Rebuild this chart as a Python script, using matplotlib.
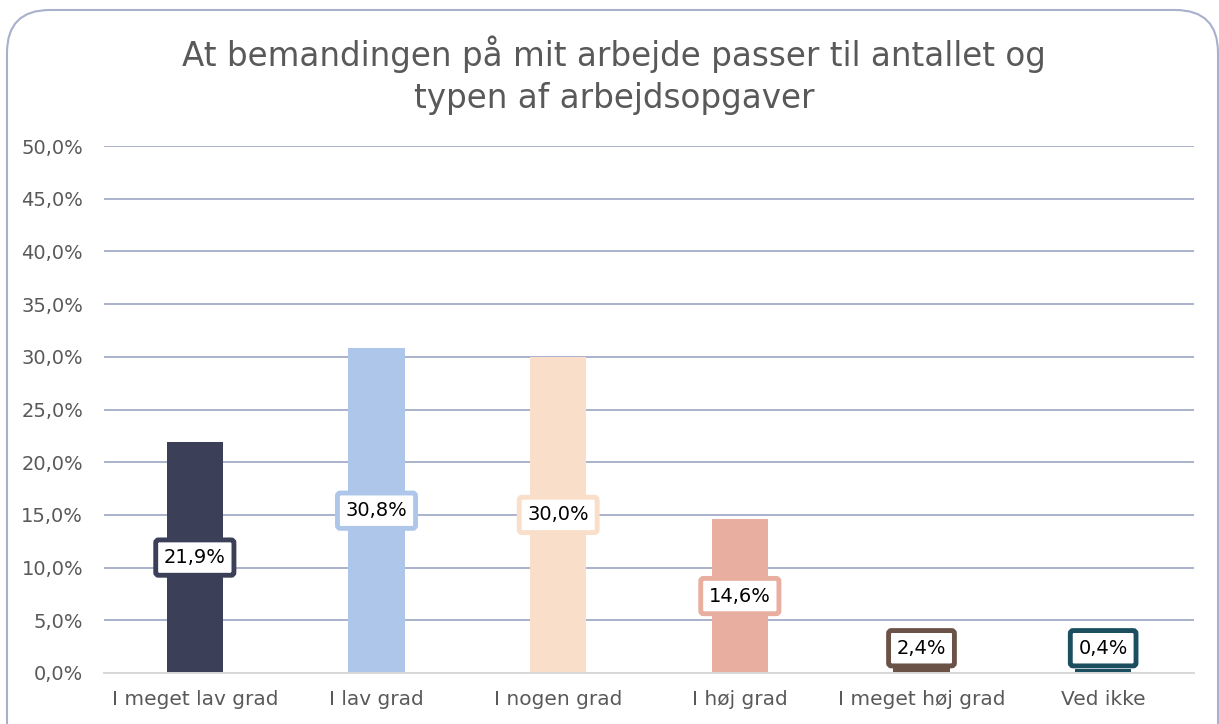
import matplotlib
matplotlib.use("Agg")
import matplotlib.pyplot as plt
from matplotlib.patches import FancyBboxPatch
from matplotlib.ticker import MultipleLocator, FuncFormatter

categories = ["I meget lav grad", "I lav grad", "I nogen grad", "I høj grad", "I meget høj grad", "Ved ikke"]
values = [21.9, 30.8, 30.0, 14.6, 2.4, 0.4]
colors = ["#3B3F58", "#AEC6EA", "#F9DEC9", "#E8AFA0", "#6B5247", "#1B4F60"]
title = "At bemandingen på mit arbejde passer til antallet og\ntypen af arbejdsopgaver"

plt.rcParams['font.family'] = ['DejaVu Sans']
W, H = 1219, 724
fig = plt.figure(figsize=(W/100, H/100), dpi=100)

# rounded border (bottom edge runs off the canvas)
border = FancyBboxPatch((7/W, 1 - 800/H), (1218-7)/W, (800-10)/H,
                        boxstyle="round,pad=0,rounding_size=0.035",
                        transform=fig.transFigure, fill=False,
                        edgecolor="#A8B0CC", linewidth=1.5, mutation_aspect=W/H)
fig.patches.append(border)

ax = fig.add_axes([104/W, 1 - 673/H, (1194-104)/W, (673-146)/H])
x = range(len(categories))
ax.bar(x, values, width=0.31, color=colors, zorder=3)
ax.set_ylim(0, 50)
ax.set_xlim(-0.5, len(categories) - 0.5)
ax.yaxis.set_major_locator(MultipleLocator(5))
ax.yaxis.set_major_formatter(FuncFormatter(lambda v, p: f"{v:.1f}%".replace(".", ",")))
ax.grid(axis="y", color="#A9B1CC", linewidth=1.4, zorder=0)
for s in ["top", "right", "left"]:
    ax.spines[s].set_visible(False)
ax.spines["bottom"].set_color("#D9D9D9")
ax.spines["bottom"].set_linewidth(1.4)
ax.spines["bottom"].set_zorder(4)
ax.tick_params(axis="both", length=0, colors="#595959")
ax.tick_params(axis="x", labelsize=14.5, pad=12)
ax.tick_params(axis="y", labelsize=14, pad=15)
ax.set_xticks(list(x))
ax.set_xticklabels(categories)

for i, (v, c) in enumerate(zip(values, colors)):
    y = max(v / 2, 2.35)
    ax.text(i, y, f"{v:.1f}%".replace(".", ","), ha="center", va="center",
            fontsize=14, color="black", zorder=5,
            bbox=dict(boxstyle="round,pad=0.42,rounding_size=0.15", facecolor="white",
                      edgecolor=c, linewidth=3.5))

fig.text(614/W, 1 - 75/H, title, ha="center", va="center", fontsize=23.5,
         color="#595959", linespacing=1.35)

fig.savefig("out.png", dpi=100)
